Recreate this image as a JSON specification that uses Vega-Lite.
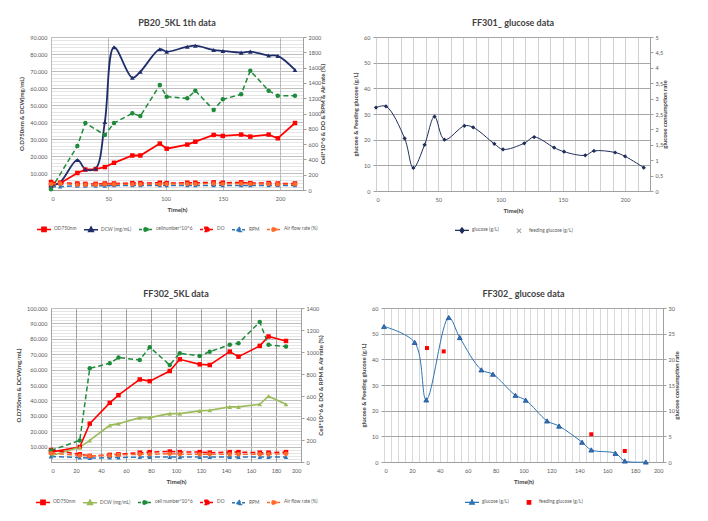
{
"$schema": "https://vega.github.io/schema/vega-lite/v6.json",
"background": "white",
"padding": {"left": 15, "top": 18, "right": 0, "bottom": 0},
"datasets": {
"p1": [
{"s":"OD750nm","t":0,"v":2500},{"s":"OD750nm","t":8,"v":4000},{"s":"OD750nm","t":23,"v":10000},{"s":"OD750nm","t":30,"v":12000},{"s":"OD750nm","t":39,"v":12300},{"s":"OD750nm","t":47,"v":13500},{"s":"OD750nm","t":55,"v":16000},{"s":"OD750nm","t":71,"v":20300},{"s":"OD750nm","t":78,"v":20300},{"s":"OD750nm","t":95,"v":27300},{"s":"OD750nm","t":101,"v":24300},{"s":"OD750nm","t":119,"v":26700},{"s":"OD750nm","t":126,"v":28400},{"s":"OD750nm","t":142,"v":32400},{"s":"OD750nm","t":150,"v":31800},{"s":"OD750nm","t":166,"v":32600},{"s":"OD750nm","t":174,"v":31400},{"s":"OD750nm","t":190,"v":32600},{"s":"OD750nm","t":198,"v":30400},{"s":"OD750nm","t":213,"v":39400},
{"s":"DCW (mg/mL)","t":0,"v":2500},{"s":"DCW (mg/mL)","t":8,"v":4500},{"s":"DCW (mg/mL)","t":23,"v":17700},{"s":"DCW (mg/mL)","t":30,"v":12200},{"s":"DCW (mg/mL)","t":39,"v":12700},{"s":"DCW (mg/mL)","t":47,"v":40000},{"s":"DCW (mg/mL)","t":55,"v":84000},{"s":"DCW (mg/mL)","t":71,"v":66000},{"s":"DCW (mg/mL)","t":78,"v":69600},{"s":"DCW (mg/mL)","t":95,"v":82800},{"s":"DCW (mg/mL)","t":101,"v":81400},{"s":"DCW (mg/mL)","t":119,"v":84300},{"s":"DCW (mg/mL)","t":126,"v":84900},{"s":"DCW (mg/mL)","t":142,"v":82400},{"s":"DCW (mg/mL)","t":150,"v":81800},{"s":"DCW (mg/mL)","t":166,"v":80800},{"s":"DCW (mg/mL)","t":174,"v":81400},{"s":"DCW (mg/mL)","t":190,"v":79100},{"s":"DCW (mg/mL)","t":198,"v":78900},{"s":"DCW (mg/mL)","t":213,"v":70600},
{"s":"cellnumber*10^6","t":0,"v":10},{"s":"cellnumber*10^6","t":23,"v":575},{"s":"cellnumber*10^6","t":30,"v":875},{"s":"cellnumber*10^6","t":47,"v":719},{"s":"cellnumber*10^6","t":55,"v":875},{"s":"cellnumber*10^6","t":71,"v":1002},{"s":"cellnumber*10^6","t":78,"v":967},{"s":"cellnumber*10^6","t":95,"v":1372},{"s":"cellnumber*10^6","t":101,"v":1220},{"s":"cellnumber*10^6","t":119,"v":1198},{"s":"cellnumber*10^6","t":126,"v":1298},{"s":"cellnumber*10^6","t":142,"v":1046},{"s":"cellnumber*10^6","t":150,"v":1185},{"s":"cellnumber*10^6","t":166,"v":1251},{"s":"cellnumber*10^6","t":174,"v":1560},{"s":"cellnumber*10^6","t":190,"v":1298},{"s":"cellnumber*10^6","t":198,"v":1233},{"s":"cellnumber*10^6","t":213,"v":1233},
{"s":"DO","t":0,"v":105},{"s":"DO","t":8,"v":95},{"s":"DO","t":23,"v":85},{"s":"DO","t":30,"v":80},{"s":"DO","t":39,"v":80},{"s":"DO","t":47,"v":85},{"s":"DO","t":55,"v":85},{"s":"DO","t":71,"v":90},{"s":"DO","t":78,"v":90},{"s":"DO","t":95,"v":95},{"s":"DO","t":101,"v":90},{"s":"DO","t":119,"v":95},{"s":"DO","t":126,"v":95},{"s":"DO","t":142,"v":100},{"s":"DO","t":150,"v":95},{"s":"DO","t":166,"v":100},{"s":"DO","t":174,"v":90},{"s":"DO","t":190,"v":90},{"s":"DO","t":198,"v":85},{"s":"DO","t":213,"v":85},
{"s":"RPM","t":0,"v":40},{"s":"RPM","t":8,"v":45},{"s":"RPM","t":23,"v":55},{"s":"RPM","t":30,"v":55},{"s":"RPM","t":39,"v":55},{"s":"RPM","t":47,"v":55},{"s":"RPM","t":55,"v":60},{"s":"RPM","t":71,"v":60},{"s":"RPM","t":78,"v":60},{"s":"RPM","t":95,"v":60},{"s":"RPM","t":101,"v":60},{"s":"RPM","t":119,"v":60},{"s":"RPM","t":126,"v":60},{"s":"RPM","t":142,"v":60},{"s":"RPM","t":150,"v":60},{"s":"RPM","t":166,"v":60},{"s":"RPM","t":174,"v":60},{"s":"RPM","t":190,"v":60},{"s":"RPM","t":198,"v":60},{"s":"RPM","t":213,"v":60},
{"s":"Air flow rate (%)","t":0,"v":80},{"s":"Air flow rate (%)","t":8,"v":85},{"s":"Air flow rate (%)","t":23,"v":70},{"s":"Air flow rate (%)","t":30,"v":70},{"s":"Air flow rate (%)","t":39,"v":70},{"s":"Air flow rate (%)","t":47,"v":75},{"s":"Air flow rate (%)","t":55,"v":75},{"s":"Air flow rate (%)","t":71,"v":75},{"s":"Air flow rate (%)","t":78,"v":75},{"s":"Air flow rate (%)","t":95,"v":75},{"s":"Air flow rate (%)","t":101,"v":80},{"s":"Air flow rate (%)","t":119,"v":80},{"s":"Air flow rate (%)","t":126,"v":80},{"s":"Air flow rate (%)","t":142,"v":85},{"s":"Air flow rate (%)","t":150,"v":80},{"s":"Air flow rate (%)","t":166,"v":85},{"s":"Air flow rate (%)","t":174,"v":80},{"s":"Air flow rate (%)","t":190,"v":80},{"s":"Air flow rate (%)","t":198,"v":75},{"s":"Air flow rate (%)","t":213,"v":75}
],
"p2": [
{"s":"glucose (g/L)","t":0,"v":32.5},{"s":"glucose (g/L)","t":8,"v":33},{"s":"glucose (g/L)","t":23,"v":20.5},{"s":"glucose (g/L)","t":30,"v":9},{"s":"glucose (g/L)","t":39,"v":18},{"s":"glucose (g/L)","t":47,"v":29},{"s":"glucose (g/L)","t":55,"v":20},{"s":"glucose (g/L)","t":71,"v":25.4},{"s":"glucose (g/L)","t":78,"v":24.8},{"s":"glucose (g/L)","t":95,"v":18.4},{"s":"glucose (g/L)","t":102,"v":16.2},{"s":"glucose (g/L)","t":119,"v":18.6},{"s":"glucose (g/L)","t":127,"v":21},{"s":"glucose (g/L)","t":143,"v":16.9},{"s":"glucose (g/L)","t":151,"v":15.3},{"s":"glucose (g/L)","t":168,"v":13.9},{"s":"glucose (g/L)","t":175,"v":15.6},{"s":"glucose (g/L)","t":192,"v":15},{"s":"glucose (g/L)","t":200,"v":13.5},{"s":"glucose (g/L)","t":215,"v":9.1}
],
"p3": [
{"s":"OD750nm","t":0,"v":6400},{"s":"OD750nm","t":23,"v":9700},{"s":"OD750nm","t":31,"v":24900},{"s":"OD750nm","t":47,"v":38400},{"s":"OD750nm","t":54,"v":43400},{"s":"OD750nm","t":71,"v":53600},{"s":"OD750nm","t":79,"v":52500},{"s":"OD750nm","t":95,"v":59100},{"s":"OD750nm","t":103,"v":66700},{"s":"OD750nm","t":119,"v":63400},{"s":"OD750nm","t":127,"v":63000},{"s":"OD750nm","t":143,"v":71700},{"s":"OD750nm","t":150,"v":68400},{"s":"OD750nm","t":167,"v":75400},{"s":"OD750nm","t":174,"v":81500},{"s":"OD750nm","t":188,"v":78600},
{"s":"DCW (mg/mL)","t":0,"v":4000},{"s":"DCW (mg/mL)","t":23,"v":9500},{"s":"DCW (mg/mL)","t":31,"v":14000},{"s":"DCW (mg/mL)","t":47,"v":23800},{"s":"DCW (mg/mL)","t":54,"v":24900},{"s":"DCW (mg/mL)","t":71,"v":28800},{"s":"DCW (mg/mL)","t":79,"v":28800},{"s":"DCW (mg/mL)","t":95,"v":31400},{"s":"DCW (mg/mL)","t":103,"v":31400},{"s":"DCW (mg/mL)","t":119,"v":33200},{"s":"DCW (mg/mL)","t":127,"v":33600},{"s":"DCW (mg/mL)","t":143,"v":35800},{"s":"DCW (mg/mL)","t":150,"v":35800},{"s":"DCW (mg/mL)","t":167,"v":37500},{"s":"DCW (mg/mL)","t":174,"v":42700},{"s":"DCW (mg/mL)","t":188,"v":37500},
{"s":"cell number*10^6","t":0,"v":105},{"s":"cell number*10^6","t":23,"v":196},{"s":"cell number*10^6","t":31,"v":852},{"s":"cell number*10^6","t":47,"v":897},{"s":"cell number*10^6","t":54,"v":949},{"s":"cell number*10^6","t":71,"v":928},{"s":"cell number*10^6","t":79,"v":1044},{"s":"cell number*10^6","t":95,"v":882},{"s":"cell number*10^6","t":103,"v":989},{"s":"cell number*10^6","t":119,"v":964},{"s":"cell number*10^6","t":127,"v":1003},{"s":"cell number*10^6","t":143,"v":1065},{"s":"cell number*10^6","t":150,"v":1080},{"s":"cell number*10^6","t":167,"v":1272},{"s":"cell number*10^6","t":174,"v":1065},{"s":"cell number*10^6","t":188,"v":1049},
{"s":"DO","t":0,"v":110},{"s":"DO","t":23,"v":70},{"s":"DO","t":31,"v":55},{"s":"DO","t":47,"v":65},{"s":"DO","t":54,"v":70},{"s":"DO","t":71,"v":85},{"s":"DO","t":79,"v":90},{"s":"DO","t":95,"v":95},{"s":"DO","t":103,"v":90},{"s":"DO","t":119,"v":90},{"s":"DO","t":127,"v":85},{"s":"DO","t":143,"v":90},{"s":"DO","t":150,"v":90},{"s":"DO","t":167,"v":85},{"s":"DO","t":174,"v":85},{"s":"DO","t":188,"v":90},
{"s":"RPM","t":0,"v":50},{"s":"RPM","t":23,"v":40},{"s":"RPM","t":31,"v":35},{"s":"RPM","t":47,"v":40},{"s":"RPM","t":54,"v":40},{"s":"RPM","t":71,"v":45},{"s":"RPM","t":79,"v":45},{"s":"RPM","t":95,"v":45},{"s":"RPM","t":103,"v":45},{"s":"RPM","t":119,"v":45},{"s":"RPM","t":127,"v":45},{"s":"RPM","t":143,"v":45},{"s":"RPM","t":150,"v":45},{"s":"RPM","t":167,"v":45},{"s":"RPM","t":174,"v":45},{"s":"RPM","t":188,"v":45},
{"s":"Air flow rate (%)","t":0,"v":80},{"s":"Air flow rate (%)","t":23,"v":60},{"s":"Air flow rate (%)","t":31,"v":55},{"s":"Air flow rate (%)","t":47,"v":60},{"s":"Air flow rate (%)","t":54,"v":65},{"s":"Air flow rate (%)","t":71,"v":70},{"s":"Air flow rate (%)","t":79,"v":70},{"s":"Air flow rate (%)","t":95,"v":75},{"s":"Air flow rate (%)","t":103,"v":70},{"s":"Air flow rate (%)","t":119,"v":70},{"s":"Air flow rate (%)","t":127,"v":70},{"s":"Air flow rate (%)","t":143,"v":70},{"s":"Air flow rate (%)","t":150,"v":70},{"s":"Air flow rate (%)","t":167,"v":70},{"s":"Air flow rate (%)","t":174,"v":70},{"s":"Air flow rate (%)","t":188,"v":75}
],
"p4": [
{"s":"glucose (g/L)","t":0,"v":52.8},{"s":"glucose (g/L)","t":22,"v":46.6},{"s":"glucose (g/L)","t":30.3,"v":24.2},{"s":"glucose (g/L)","t":46.4,"v":56.3},{"s":"glucose (g/L)","t":54.3,"v":48.5},{"s":"glucose (g/L)","t":69.8,"v":35.9},{"s":"glucose (g/L)","t":78.1,"v":34.2},{"s":"glucose (g/L)","t":94.2,"v":26},{"s":"glucose (g/L)","t":101.6,"v":24.1},{"s":"glucose (g/L)","t":116.9,"v":16},{"s":"glucose (g/L)","t":125.5,"v":14},{"s":"glucose (g/L)","t":142,"v":7.7},{"s":"glucose (g/L)","t":148.6,"v":4.7},{"s":"glucose (g/L)","t":165.9,"v":3.4},{"s":"glucose (g/L)","t":172.6,"v":0.4},{"s":"glucose (g/L)","t":187.7,"v":0},
{"s":"feeding glucose (g/L)","t":30.8,"v":44.4},{"s":"feeding glucose (g/L)","t":42.8,"v":43.1},{"s":"feeding glucose (g/L)","t":148.6,"v":10.8},{"s":"feeding glucose (g/L)","t":172.6,"v":4.3}
]
},
"resolve": {"scale": {"color": "independent", "x": "independent", "y": "independent"}, "legend": {"color": "independent"}},
"spacing": 52,
"vconcat": [
{
"spacing": 73,
"bounds": "flush",
"resolve": {"scale": {"color": "independent", "x": "independent", "y": "independent"}, "legend": {"color": "independent"}},
"hconcat": [
{
"title": {"text": "PB20_5KL 1th data"},
"width": 252, "height": 153,
"data": {"name": "p1"},
"encoding": {
"x": {"field": "t", "type": "quantitative", "scale": {"domain": [0, 220], "nice": false, "zero": false},
"axis": {"title": "Time(h)", "values": [0,50,100,150,200], "gridColor": "#BFBFBF", "ticks": false, "domainColor": "#A0A0A0", "labelPadding": 6, "titlePadding": 5}},
"color": {"field": "s", "type": "nominal",
"scale": {"domain": ["OD750nm","DCW (mg/mL)","cellnumber*10^6","DO","RPM","Air flow rate (%)"], "range": ["#FF0000","#1F2D6B","#1E8B3A","#FF0000","#2E75B6","#FF6A2B"]},
"legend": {"orient": "bottom", "direction": "horizontal", "title": null, "symbolSize": 196, "columnPadding": 4, "labelOffset": 2, "offset": 8,
"encode": {"symbols": {"update": {
"shape": {"signal": "['M-1,0H1M-0.3,-0.3H0.3V0.3H-0.3Z','M-1,0H1M0,-0.38L0.34,0.25H-0.34Z','M-1,0H1M-0.3,0A0.3,0.3 0 1,0 0.3,0A0.3,0.3 0 1,0 -0.3,0Z','M-1,0H1M-0.3,-0.3H0.3V0.3H-0.3Z','M-1,0H1M0,-0.38L0.34,0.25H-0.34Z','M-1,0H1M-0.3,0A0.3,0.3 0 1,0 0.3,0A0.3,0.3 0 1,0 -0.3,0Z'][indexof(['OD750nm','DCW (mg/mL)','cellnumber*10^6','DO','RPM','Air flow rate (%)'], datum.value)]"},
"fill": {"signal": "['#FF0000','#1F2D6B','#1E8B3A','#FF0000','#2E75B6','#FF6A2B'][indexof(['OD750nm','DCW (mg/mL)','cellnumber*10^6','DO','RPM','Air flow rate (%)'], datum.value)]"},
"stroke": {"signal": "['#FF0000','#1F2D6B','#1E8B3A','#FF0000','#2E75B6','#FF6A2B'][indexof(['OD750nm','DCW (mg/mL)','cellnumber*10^6','DO','RPM','Air flow rate (%)'], datum.value)]"},
"strokeDash": {"signal": "indexof(['OD750nm','DCW (mg/mL)'], datum.value) >= 0 ? [] : [3,2]"},
"strokeWidth": {"value": 1.5},
"opacity": {"value": 1}
}}}}
}
},
"layer": [
{"transform": [{"filter": {"field": "s", "equal": "OD750nm"}}], "mark": {"type": "line", "strokeWidth": 1.8},
"encoding": {"y": {"field": "v", "type": "quantitative", "scale": {"domain": [0, 90000], "nice": false},
"axis": {"orient": "left", "title": "O.D750nm & DCW(mg/mL)", "values": [0,2000,4000,6000,8000,10000,12000,14000,16000,18000,20000,22000,24000,26000,28000,30000,32000,34000,36000,38000,40000,42000,44000,46000,48000,50000,52000,54000,56000,58000,60000,62000,64000,66000,68000,70000,72000,74000,76000,78000,80000,82000,84000,86000,88000,90000],
"labelExpr": "datum.value > 0 && datum.value % 10000 == 0 ? replace(format(datum.value, ','), ',', '.') : ''",
"gridColor": {"condition": {"test": "datum.value % 10000 == 0", "value": "#BFBFBF"}, "value": "rgba(0,0,0,0.1)"},
"ticks": false, "domain": false, "labelOverlap": false, "labelPadding": 4, "titlePadding": 5}}}},
{"transform": [{"filter": {"field": "s", "equal": "DCW (mg/mL)"}}], "mark": {"type": "line", "interpolate": "catmull-rom", "strokeWidth": 1.8},
"encoding": {"y": {"field": "v", "type": "quantitative", "scale": {"domain": [0, 90000], "nice": false}, "axis": null}}},
{"transform": [{"filter": {"field": "s", "oneOf": ["cellnumber*10^6","DO","RPM","Air flow rate (%)"]}}], "mark": {"type": "line", "strokeDash": [5,3], "strokeWidth": 1.5},
"encoding": {"y": {"field": "v", "type": "quantitative", "scale": {"domain": [0, 2000], "nice": false},
"axis": {"orient": "right", "title": "Cell*10^6 & DO & RPM & Air rate (%)", "values": [0,200,400,600,800,1000,1200,1400,1600,1800,2000], "format": "d", "grid": false, "titleAngle": 270, "tickSize": 3, "tickColor": "#A0A0A0", "domainColor": "#A0A0A0", "labelPadding": 2, "titlePadding": 5}}}},
{"transform": [{"filter": {"field": "s", "equal": "OD750nm"}}], "mark": {"type": "point", "filled": true, "opacity": 1, "size": 20, "shape": "square"},
"encoding": {"y": {"field": "v", "type": "quantitative", "scale": {"domain": [0, 90000], "nice": false}, "axis": null}}},
{"transform": [{"filter": {"field": "s", "equal": "DCW (mg/mL)"}}], "mark": {"type": "point", "filled": true, "opacity": 1, "size": 22, "shape": "triangle-up"},
"encoding": {"y": {"field": "v", "type": "quantitative", "scale": {"domain": [0, 90000], "nice": false}, "axis": null}}},
{"transform": [{"filter": {"field": "s", "equal": "DO"}}], "mark": {"type": "point", "filled": true, "opacity": 1, "size": 20, "shape": "square"},
"encoding": {"y": {"field": "v", "type": "quantitative", "scale": {"domain": [0, 2000], "nice": false}, "axis": null}}},
{"transform": [{"filter": {"field": "s", "equal": "RPM"}}], "mark": {"type": "point", "filled": true, "opacity": 1, "size": 20, "shape": "triangle-up"},
"encoding": {"y": {"field": "v", "type": "quantitative", "scale": {"domain": [0, 2000], "nice": false}, "axis": null}}},
{"transform": [{"filter": {"field": "s", "oneOf": ["cellnumber*10^6","Air flow rate (%)"]}}], "mark": {"type": "point", "filled": true, "opacity": 1, "size": 20, "shape": "circle"},
"encoding": {"y": {"field": "v", "type": "quantitative", "scale": {"domain": [0, 2000], "nice": false}, "axis": null}}}
],
"resolve": {"scale": {"y": "independent"}}
},
{
"title": {"text": "FF301_ glucose data"},
"width": 274, "height": 154,
"data": {"name": "p2"},
"encoding": {
"x": {"field": "t", "type": "quantitative", "scale": {"domain": [0, 220], "nice": false, "zero": false},
"axis": {"title": "Time(h)", "values": [0,10,20,30,40,50,60,70,80,90,100,110,120,130,140,150,160,170,180,190,200,210,220], "labelExpr": "datum.value % 50 == 0 ? datum.label : ''", "labelOverlap": false, "gridColor": "#D0D0D0", "ticks": false, "domainColor": "#A0A0A0", "labelPadding": 6, "titlePadding": 5}},
"color": {"field": "s", "type": "nominal",
"scale": {"domain": ["glucose (g/L)","feeding glucose (g/L)"], "range": ["#1F2D5B","#A6A6A6"]},
"legend": {"orient": "bottom", "direction": "horizontal", "title": null, "symbolSize": 196, "columnPadding": 12, "labelOffset": 2, "offset": 8,
"encode": {"symbols": {"update": {
"shape": {"signal": "datum.value == 'glucose (g/L)' ? 'M-1,0H1M0,-0.38L0.3,0L0,0.38L-0.3,0Z' : 'M-0.3,-0.3L0.3,0.3M-0.3,0.3L0.3,-0.3'"},
"fill": {"signal": "datum.value == 'glucose (g/L)' ? '#1F2D5B' : 'transparent'"},
"stroke": {"signal": "datum.value == 'glucose (g/L)' ? '#1F2D5B' : '#A6A6A6'"},
"strokeWidth": {"value": 1.2},
"opacity": {"value": 1}
}}}}
}
},
"layer": [
{"transform": [{"filter": {"field": "s", "equal": "glucose (g/L)"}}], "mark": {"type": "line", "interpolate": "catmull-rom", "strokeWidth": 1},
"encoding": {"y": {"field": "v", "type": "quantitative", "scale": {"domain": [0, 60], "nice": false},
"axis": {"orient": "left", "title": "glucose & Feeding glucose (g/L)", "values": [0,10,20,30,40,50,60], "gridColor": "#A6A6A6", "tickSize": 3, "tickColor": "#A0A0A0", "domain": false, "labelPadding": 3, "titlePadding": 5}}}},
{"transform": [{"filter": {"field": "s", "equal": "glucose (g/L)"}}], "mark": {"type": "point", "filled": true, "opacity": 1, "size": 18, "shape": "diamond"},
"encoding": {"y": {"field": "v", "type": "quantitative", "scale": {"domain": [0, 60], "nice": false}, "axis": null}}},
{"transform": [{"filter": {"field": "s", "equal": "consumption"}}], "mark": {"type": "point", "filled": true},
"encoding": {"y": {"field": "v", "type": "quantitative", "scale": {"domain": [0, 5], "nice": false},
"axis": {"orient": "right", "title": "glucose consumption rate", "values": [0,0.5,1,1.5,2,2.5,3,3.5,4,4.5,5], "labelExpr": "replace(format(datum.value, ''), '.', ',')", "grid": false, "titleAngle": 270, "tickSize": 3, "tickColor": "#A0A0A0", "domainColor": "#A0A0A0", "labelPadding": 2, "titlePadding": 5}}}}
],
"resolve": {"scale": {"y": "independent"}}
}
]
},
{
"spacing": 83,
"bounds": "flush",
"resolve": {"scale": {"color": "independent", "x": "independent", "y": "independent"}, "legend": {"color": "independent"}},
"hconcat": [
{
"title": {"text": "FF302_5KL data"},
"width": 250, "height": 154,
"data": {"name": "p3"},
"encoding": {
"x": {"field": "t", "type": "quantitative", "scale": {"domain": [0, 200], "nice": false, "zero": false},
"axis": {"title": "Time(h)", "values": [0,20,40,60,80,100,120,140,160,180,200], "gridColor": "#A6A6A6", "ticks": false, "domainColor": "#A0A0A0", "labelPadding": 6, "titlePadding": 5}},
"color": {"field": "s", "type": "nominal",
"scale": {"domain": ["OD750nm","DCW (mg/mL)","cell number*10^6","DO","RPM","Air flow rate (%)"], "range": ["#FF0000","#9BBB59","#1E8B3A","#FF0000","#2E75B6","#FF6A2B"]},
"legend": {"orient": "bottom", "direction": "horizontal", "title": null, "symbolSize": 196, "columnPadding": 4, "labelOffset": 2, "offset": 9,
"encode": {"symbols": {"update": {
"shape": {"signal": "['M-1,0H1M-0.3,-0.3H0.3V0.3H-0.3Z','M-1,0H1M0,-0.38L0.34,0.25H-0.34Z','M-1,0H1M-0.3,0A0.3,0.3 0 1,0 0.3,0A0.3,0.3 0 1,0 -0.3,0Z','M-1,0H1M-0.3,-0.3H0.3V0.3H-0.3Z','M-1,0H1M0,-0.38L0.34,0.25H-0.34Z','M-1,0H1M-0.3,0A0.3,0.3 0 1,0 0.3,0A0.3,0.3 0 1,0 -0.3,0Z'][indexof(['OD750nm','DCW (mg/mL)','cell number*10^6','DO','RPM','Air flow rate (%)'], datum.value)]"},
"fill": {"signal": "['#FF0000','#9BBB59','#1E8B3A','#FF0000','#2E75B6','#FF6A2B'][indexof(['OD750nm','DCW (mg/mL)','cell number*10^6','DO','RPM','Air flow rate (%)'], datum.value)]"},
"stroke": {"signal": "['#FF0000','#9BBB59','#1E8B3A','#FF0000','#2E75B6','#FF6A2B'][indexof(['OD750nm','DCW (mg/mL)','cell number*10^6','DO','RPM','Air flow rate (%)'], datum.value)]"},
"strokeDash": {"signal": "indexof(['OD750nm','DCW (mg/mL)'], datum.value) >= 0 ? [] : [3,2]"},
"strokeWidth": {"value": 1.5},
"opacity": {"value": 1}
}}}}
}
},
"layer": [
{"transform": [{"filter": {"field": "s", "oneOf": ["OD750nm","DCW (mg/mL)"]}}], "mark": {"type": "line", "strokeWidth": 1.6},
"encoding": {"y": {"field": "v", "type": "quantitative", "scale": {"domain": [0, 100000], "nice": false},
"axis": {"orient": "left", "title": "O.D750nm & DCW(mg/mL)", "values": [0,2000,4000,6000,8000,10000,12000,14000,16000,18000,20000,22000,24000,26000,28000,30000,32000,34000,36000,38000,40000,42000,44000,46000,48000,50000,52000,54000,56000,58000,60000,62000,64000,66000,68000,70000,72000,74000,76000,78000,80000,82000,84000,86000,88000,90000,92000,94000,96000,98000,100000],
"labelExpr": "datum.value > 0 && datum.value % 10000 == 0 ? replace(format(datum.value, ','), ',', '.') : ''",
"gridColor": {"condition": {"test": "datum.value % 10000 == 0", "value": "#BFBFBF"}, "value": "rgba(0,0,0,0.1)"},
"ticks": false, "domain": false, "labelOverlap": false, "labelPadding": 4, "titlePadding": 5}}}},
{"transform": [{"filter": {"field": "s", "oneOf": ["cell number*10^6","DO","RPM","Air flow rate (%)"]}}], "mark": {"type": "line", "strokeDash": [5,3], "strokeWidth": 1.5},
"encoding": {"y": {"field": "v", "type": "quantitative", "scale": {"domain": [0, 1400], "nice": false},
"axis": {"orient": "right", "title": "Cell*10^6 & DO & RPM & Air rate (%)", "values": [0,200,400,600,800,1000,1200,1400], "format": "d", "grid": false, "titleAngle": 270, "tickSize": 3, "tickColor": "#A0A0A0", "domainColor": "#A0A0A0", "labelPadding": 2, "titlePadding": 5}}}},
{"transform": [{"filter": {"field": "s", "equal": "OD750nm"}}], "mark": {"type": "point", "filled": true, "opacity": 1, "size": 20, "shape": "square"},
"encoding": {"y": {"field": "v", "type": "quantitative", "scale": {"domain": [0, 100000], "nice": false}, "axis": null}}},
{"transform": [{"filter": {"field": "s", "equal": "DCW (mg/mL)"}}], "mark": {"type": "point", "filled": true, "opacity": 1, "size": 22, "shape": "triangle-up"},
"encoding": {"y": {"field": "v", "type": "quantitative", "scale": {"domain": [0, 100000], "nice": false}, "axis": null}}},
{"transform": [{"filter": {"field": "s", "equal": "DO"}}], "mark": {"type": "point", "filled": true, "opacity": 1, "size": 20, "shape": "square"},
"encoding": {"y": {"field": "v", "type": "quantitative", "scale": {"domain": [0, 1400], "nice": false}, "axis": null}}},
{"transform": [{"filter": {"field": "s", "equal": "RPM"}}], "mark": {"type": "point", "filled": true, "opacity": 1, "size": 20, "shape": "triangle-up"},
"encoding": {"y": {"field": "v", "type": "quantitative", "scale": {"domain": [0, 1400], "nice": false}, "axis": null}}},
{"transform": [{"filter": {"field": "s", "oneOf": ["cell number*10^6","Air flow rate (%)"]}}], "mark": {"type": "point", "filled": true, "opacity": 1, "size": 20, "shape": "circle"},
"encoding": {"y": {"field": "v", "type": "quantitative", "scale": {"domain": [0, 1400], "nice": false}, "axis": null}}}
],
"resolve": {"scale": {"y": "independent"}}
},
{
"title": {"text": "FF302_ glucose data"},
"width": 279, "height": 154,
"data": {"name": "p4"},
"encoding": {
"x": {"field": "t", "type": "quantitative", "scale": {"domain": [0, 200], "nice": false, "zero": false},
"axis": {"title": "Time(h)", "values": [0,5,10,15,20,25,30,35,40,45,50,55,60,65,70,75,80,85,90,95,100,105,110,115,120,125,130,135,140,145,150,155,160,165,170,175,180,185,190,195,200], "labelExpr": "datum.value % 20 == 0 ? datum.label : ''", "labelOverlap": false, "gridColor": "#D9D9D9", "ticks": false, "domainColor": "#A0A0A0", "labelPadding": 6, "titlePadding": 5}},
"color": {"field": "s", "type": "nominal",
"scale": {"domain": ["glucose (g/L)","feeding glucose (g/L)"], "range": ["#2E75B6","#FF0000"]},
"legend": {"orient": "bottom", "direction": "horizontal", "title": null, "symbolSize": 196, "columnPadding": 12, "labelOffset": 2, "offset": 9,
"encode": {"symbols": {"update": {
"shape": {"signal": "datum.value == 'glucose (g/L)' ? 'M-1,0H1M0,-0.38L0.34,0.25H-0.34Z' : 'M-0.25,-0.25H0.25V0.25H-0.25Z'"},
"fill": {"signal": "datum.value == 'glucose (g/L)' ? '#2E75B6' : '#FF0000'"},
"stroke": {"signal": "datum.value == 'glucose (g/L)' ? '#2E75B6' : '#FF0000'"},
"strokeWidth": {"value": 1.2},
"opacity": {"value": 1}
}}}}
}
},
"layer": [
{"transform": [{"filter": {"field": "s", "equal": "glucose (g/L)"}}], "mark": {"type": "line", "interpolate": "catmull-rom", "strokeWidth": 1, "color": "#2E5E8E"},
"encoding": {"y": {"field": "v", "type": "quantitative", "scale": {"domain": [0, 60], "nice": false},
"axis": {"orient": "left", "title": "glucose & Feeding glucose (g/L)", "values": [0,10,20,30,40,50,60], "gridColor": "#A6A6A6", "tickSize": 3, "tickColor": "#A0A0A0", "domain": false, "labelPadding": 3, "titlePadding": 5}}}},
{"transform": [{"filter": {"field": "s", "equal": "glucose (g/L)"}}], "mark": {"type": "point", "filled": true, "opacity": 1, "size": 24, "shape": "triangle-up", "stroke": "#1F4E9A", "strokeWidth": 0.8},
"encoding": {"y": {"field": "v", "type": "quantitative", "scale": {"domain": [0, 60], "nice": false}, "axis": null}}},
{"transform": [{"filter": {"field": "s", "equal": "feeding glucose (g/L)"}}], "mark": {"type": "point", "filled": true, "opacity": 1, "size": 16, "shape": "square"},
"encoding": {"y": {"field": "v", "type": "quantitative", "scale": {"domain": [0, 60], "nice": false}, "axis": null}}},
{"transform": [{"filter": {"field": "s", "equal": "consumption"}}], "mark": {"type": "point", "filled": true},
"encoding": {"y": {"field": "v", "type": "quantitative", "scale": {"domain": [0, 30], "nice": false},
"axis": {"orient": "right", "title": "glucose consumption rate", "values": [0,5,10,15,20,25,30], "grid": false, "titleAngle": 270, "tickSize": 3, "tickColor": "#A0A0A0", "domainColor": "#A0A0A0", "labelPadding": 2, "titlePadding": 5}}}}
],
"resolve": {"scale": {"y": "independent"}}
}
]
}
],
"config": {
"font": "Lato",
"view": {"stroke": "#A6A6A6"},
"title": {"fontSize": 9, "fontWeight": "bold", "color": "#404040", "anchor": "middle", "frame": "group", "offset": 7},
"axis": {"labelFontSize": 5.5, "labelColor": "#595959", "titleFontSize": 6, "titleFontWeight": "bold", "titleColor": "#404040"},
"legend": {"labelFontSize": 4.8, "labelColor": "#595959", "labelLimit": 200, "layout": {"bottom": {"anchor": "middle"}}}
}
}
